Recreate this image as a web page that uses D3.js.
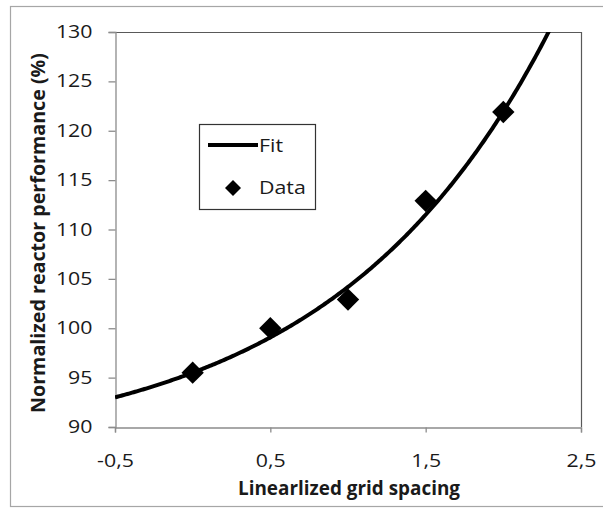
<!DOCTYPE html>
<html>
<head>
<meta charset="utf-8">
<script src="https://cdn.jsdelivr.net/npm/d3@7/dist/d3.min.js"></script>
<style>
  html, body { margin: 0; padding: 0; background: #fff; }
  svg { display: block; }
  text { font-family: "Open Sans", "Noto Sans", sans-serif; fill: #1a1a1a; }
</style>
</head>
<body>
<svg id="chart" width="603" height="508"></svg>
<script>
// Measured reactor performance at each linearized grid spacing
const gridSpacing = [0, 0.5, 1, 1.5, 2];
const performance = [95.5, 100, 102.9, 112.9, 121.9];

// Exponential fit: perf = fitA + fitB * exp(fitC * spacing)
const fitA = 87.19;
const fitB = 8.31;
const fitC = 0.7155;

// Axis ticks
const xTicks = [-0.5, 0.5, 1.5, 2.5];
const yTicks = [90, 95, 100, 105, 110, 115, 120, 125, 130];

const legendLabels = ["Fit", "Data"];

const svg = d3.select("#chart");
const W = 603, H = 508;
const plotL = 115, plotR = 581, plotT = 32, plotB = 427;
const widen = 1.22;

// Stretch text horizontally about a chosen anchor (0 = left, 0.5 = centre, 1 = right)
function stretch(sel, anchor) {
  sel.each(function () {
    const b = this.getBBox();
    const ax = b.x + b.width * anchor;
    d3.select(this).attr("transform",
      `translate(${ax},0) scale(${widen},1) translate(${-ax},0)`);
  });
}

// Outer chart frame
svg.append("rect")
  .attr("x", 10.5).attr("y", 6.5)
  .attr("width", W).attr("height", 500)
  .attr("fill", "#fff").attr("stroke", "#a6a6a6").attr("stroke-width", 1.2);

const x = d3.scaleLinear().domain([-0.5, 2.5]).range([plotL, plotR]);
const y = d3.scaleLinear().domain([90, 130]).range([plotB, plotT]);

const fmt = d => String(d).replace(".", ",");

// Plot area border (top and right)
svg.append("path")
  .attr("d", `M${plotL},${plotT + 0.5}H${plotR + 0.5}V${plotB}`)
  .attr("fill", "none").attr("stroke", "#595959").attr("stroke-width", 1.2);

// X axis
const xAxis = svg.append("g")
  .attr("transform", `translate(0,${plotB + 0.5})`)
  .call(d3.axisBottom(x).tickValues(xTicks).tickFormat(fmt).tickSize(5).tickPadding(22));
xAxis.select(".domain").attr("stroke", "#8c8c8c").attr("stroke-width", 1.3);
xAxis.selectAll(".tick line").attr("stroke", "#8c8c8c").attr("stroke-width", 1.3);
xAxis.selectAll("text")
  .style("font-size", "17.5px").attr("fill", "#1a1a1a")
  .call(stretch, 0.5);

// Y axis
const yAxis = svg.append("g")
  .attr("transform", `translate(${plotL + 0.5},0)`)
  .call(d3.axisLeft(y).tickValues(yTicks).tickFormat(fmt).tickSize(7).tickPadding(16));
yAxis.select(".domain").attr("stroke", "#8c8c8c").attr("stroke-width", 1.3);
yAxis.selectAll(".tick line").attr("stroke", "#8c8c8c").attr("stroke-width", 1.3);
yAxis.selectAll("text")
  .style("font-size", "17.5px").attr("fill", "#1a1a1a")
  .call(stretch, 1);

// Axis titles
svg.append("text")
  .attr("x", 349).attr("y", 495)
  .attr("text-anchor", "middle")
  .attr("textLength", 222).attr("lengthAdjust", "spacingAndGlyphs")
  .style("font-size", "19px").style("font-weight", "bold")
  .text("Linearlized grid spacing");

svg.append("text")
  .attr("transform", "translate(45,233) rotate(-90)")
  .attr("text-anchor", "middle")
  .attr("textLength", 360).attr("lengthAdjust", "spacingAndGlyphs")
  .style("font-size", "19px").style("font-weight", "bold")
  .text("Normalized reactor performance (%)");

// Clip for the fit curve
svg.append("clipPath").attr("id", "plotClip")
  .append("rect").attr("x", plotL).attr("y", plotT)
  .attr("width", plotR - plotL).attr("height", plotB - plotT);

const fitX = d3.range(-0.5, 2.5001, 0.01);
const fitLine = d3.line()
  .x(d => x(d))
  .y(d => y(fitA + fitB * Math.exp(fitC * d)));

svg.append("path")
  .datum(fitX)
  .attr("clip-path", "url(#plotClip)")
  .attr("d", fitLine)
  .attr("fill", "none").attr("stroke", "#000").attr("stroke-width", 4);

// Data markers (diamonds)
const diamond = d3.symbol().type(d3.symbolSquare).size(250);
svg.append("g").selectAll("path")
  .data(gridSpacing.map((g, i) => [g, performance[i]]))
  .join("path")
  .attr("d", diamond)
  .attr("transform", d => `translate(${x(d[0])},${y(d[1])}) rotate(45)`)
  .attr("fill", "#000");

// Legend
const lg = svg.append("g");
lg.append("rect")
  .attr("x", 199.5).attr("y", 124.5).attr("width", 116).attr("height", 85)
  .attr("fill", "#fff").attr("stroke", "#333").attr("stroke-width", 1.2);
lg.append("line")
  .attr("x1", 208).attr("x2", 258).attr("y1", 145).attr("y2", 145)
  .attr("stroke", "#000").attr("stroke-width", 4);
lg.append("path")
  .attr("d", d3.symbol().type(d3.symbolSquare).size(128))
  .attr("transform", "translate(233,188) rotate(45)")
  .attr("fill", "#000");
lg.selectAll("text.lbl")
  .data(legendLabels)
  .join("text")
  .attr("class", "lbl")
  .attr("x", 259)
  .attr("y", (d, i) => i === 0 ? 152 : 194)
  .style("font-size", "17.5px")
  .text(d => d)
  .call(stretch, 0);
</script>
</body>
</html>
